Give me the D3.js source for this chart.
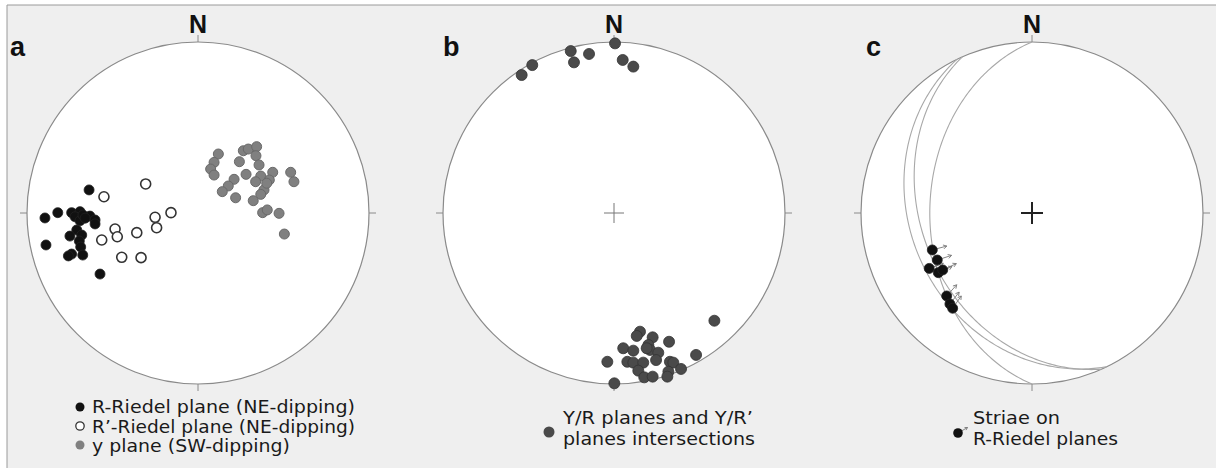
<!DOCTYPE html>
<html><head><meta charset="utf-8">
<script src="https://cdn.jsdelivr.net/npm/d3@7"></script>
<style>html,body{margin:0;padding:0;background:#fff;}svg{display:block;}</style>
</head><body>
<script>
// ---------- DATA (normalized stereonet coordinates: x east, y north, unit = primitive radius) ----------
const panelLabels = ["a", "b", "c"];
const northLabel = "N";

const rRiedelX = [-0.637,-0.820,-0.895,-0.739,-0.690,-0.719,-0.690,-0.632,-0.602,-0.602,-0.709,-0.749,-0.680,-0.694,-0.686,-0.739,-0.758,-0.674,-0.889,-0.573,-0.673,-0.660];
const rRiedelY = [0.135,0.002,-0.029,0.002,0.008,-0.022,-0.045,-0.018,-0.041,-0.064,-0.099,-0.135,-0.129,-0.164,-0.199,-0.240,-0.251,-0.246,-0.187,-0.357,-0.012,-0.030];

const rPrimeX = [-0.306,-0.550,-0.485,-0.472,-0.563,-0.358,-0.251,-0.158,-0.242,-0.446,-0.333];
const rPrimeY = [0.170,0.095,-0.094,-0.139,-0.158,-0.115,-0.025,0.002,-0.086,-0.259,-0.261];

const yPlaneX = [0.119,0.094,0.074,0.094,0.265,0.294,0.343,0.339,0.242,0.357,0.281,0.211,0.177,0.142,0.220,0.367,0.437,0.417,0.337,0.386,0.367,0.323,0.542,0.561,0.378,0.405,0.474,0.505,0.402];
const yPlaneY = [0.345,0.296,0.257,0.222,0.364,0.374,0.388,0.335,0.300,0.281,0.226,0.197,0.158,0.125,0.089,0.216,0.238,0.193,0.183,0.135,0.109,0.072,0.238,0.183,0.002,0.018,-0.002,-0.123,0.174];

const interX = [0.006,-0.253,-0.234,-0.146,-0.478,-0.540,0.051,0.113,
  0.587,0.152,0.133,0.226,0.322,0.201,0.054,0.113,0.211,0.259,0.480,-0.039,0.078,0.113,0.171,0.246,0.327,0.347,0.392,0.142,0.318,0.177,0.226,0.312,0.002,0.191];
const interY = [0.992,0.947,0.881,0.930,0.865,0.807,0.895,0.856,
  -0.630,-0.694,-0.719,-0.727,-0.753,-0.772,-0.791,-0.805,-0.801,-0.817,-0.830,-0.870,-0.870,-0.875,-0.875,-0.860,-0.870,-0.875,-0.912,-0.922,-0.928,-0.961,-0.957,-0.957,-0.996,-0.791];

const striaeX = [-0.583,-0.554,-0.601,-0.548,-0.522,-0.499,-0.480,-0.464];
const striaeY = [-0.216,-0.275,-0.324,-0.349,-0.333,-0.485,-0.532,-0.557];
const striaeTrend = [75,72,70,66,65,42,38,35];

const planeDipDir = [270,244,246];
const planeDip = [40,30,36];

const legendA = ["R-Riedel plane (NE-dipping)", "R\u2019-Riedel plane (NE-dipping)", "y plane (SW-dipping)"];
const legendB = ["Y/R planes and Y/R\u2019", "planes intersections"];
const legendC = ["Striae on", "R-Riedel planes"];

// ---------- LAYOUT ----------
const W = 1216, H = 468;
const centers = [198, 614, 1032];
const labelX = [10, 443, 866];
const CY = 213, R = 171;

const svg = d3.select("body").append("svg").attr("width", W).attr("height", H);
svg.append("rect").attr("x",0).attr("y",0).attr("width",W).attr("height",H).attr("fill","#fff");
svg.append("rect").attr("x",7).attr("y",5).attr("width",W-7).attr("height",H-5).attr("fill","#efefef");
svg.append("path").attr("d",`M7,${H}V5H${W}`).attr("fill","none").attr("stroke","#9a9a9a").attr("stroke-width",1);

const scales = centers.map(cx => ({
  x: d3.scaleLinear().domain([-1,1]).range([cx-R, cx+R]),
  y: d3.scaleLinear().domain([-1,1]).range([CY+R, CY-R])
}));

centers.forEach((cx, i) => {
  const g = svg.append("g");
  const s = scales[i];
  g.append("circle").attr("cx", s.x(0)).attr("cy", s.y(0)).attr("r", s.x(1)-s.x(0))
    .attr("fill","#fff").attr("stroke","#8a8a8a").attr("stroke-width",1.2);
  const tk = 7;
  const ticks = [[0,1,0,-tk],[0,-1,0,tk],[-1,0,-tk,0],[1,0,tk,0]];
  ticks.forEach(t => {
    g.append("line").attr("x1", s.x(t[0])).attr("y1", s.y(t[1]))
      .attr("x2", s.x(t[0])+t[2]).attr("y2", s.y(t[1])+t[3])
      .attr("stroke","#8a8a8a").attr("stroke-width",1);
  });
  g.append("text").attr("x", s.x(0)).attr("y", 33).attr("text-anchor","middle")
    .attr("font-family","Liberation Sans, Arial, sans-serif").attr("font-weight","bold")
    .attr("font-size",25).attr("fill","#111").text(northLabel);
  g.append("text").attr("x", labelX[i]).attr("y", 56)
    .attr("font-family","Liberation Sans, Arial, sans-serif").attr("font-weight","bold")
    .attr("font-size",27).attr("fill","#111").text(panelLabels[i]);
});

// center crosses (b: thin grey, c: bold black)
function cross(s, size, col, w) {
  svg.append("path").attr("d", `M${s.x(0)-size},${s.y(0)}H${s.x(0)+size}M${s.x(0)},${s.y(0)-size}V${s.y(0)+size}`)
    .attr("stroke", col).attr("stroke-width", w).attr("fill","none");
}
cross(scales[1], 10, "#777", 1);
cross(scales[2], 11, "#222", 2);

// ---------- Panel a ----------
const sa = scales[0];
svg.append("g").selectAll("circle").data(d3.range(yPlaneX.length)).join("circle")
  .attr("cx", d => sa.x(yPlaneX[d])).attr("cy", d => sa.y(yPlaneY[d])).attr("r", 5)
  .attr("fill","#808080").attr("stroke","#6a6a6a").attr("stroke-width",1);
svg.append("g").selectAll("circle").data(d3.range(rPrimeX.length)).join("circle")
  .attr("cx", d => sa.x(rPrimeX[d])).attr("cy", d => sa.y(rPrimeY[d])).attr("r", 5)
  .attr("fill","#fff").attr("stroke","#333").attr("stroke-width",1.6);
svg.append("g").selectAll("circle").data(d3.range(rRiedelX.length)).join("circle")
  .attr("cx", d => sa.x(rRiedelX[d])).attr("cy", d => sa.y(rRiedelY[d])).attr("r", 5)
  .attr("fill","#111").attr("stroke","#222").attr("stroke-width",0.8);

// ---------- Panel b ----------
const sb = scales[1];
svg.append("g").selectAll("circle").data(d3.range(interX.length)).join("circle")
  .attr("cx", d => sb.x(interX[d])).attr("cy", d => sb.y(interY[d])).attr("r", 5.5)
  .attr("fill","#4a4a4a").attr("stroke","#333").attr("stroke-width",0.8);

// ---------- Panel c ----------
const sc = scales[2];
const rad = Math.PI/180;
function greatCircle(dd, dip) {
  const pts = [];
  const s = (dd-90)*rad, dr = dd*rad, dp = dip*rad;
  for (let t = 0; t <= 180; t += 1) {
    const tr = t*rad;
    const n = Math.cos(s)*Math.cos(tr) + Math.cos(dp)*Math.cos(dr)*Math.sin(tr);
    const e = Math.sin(s)*Math.cos(tr) + Math.cos(dp)*Math.sin(dr)*Math.sin(tr);
    const dn = Math.sin(dp)*Math.sin(tr);
    const pl = Math.asin(Math.max(-1, Math.min(1, dn)));
    const trend = Math.atan2(e, n);
    const r = Math.SQRT2*Math.sin((Math.PI/2 - pl)/2);
    pts.push([r*Math.sin(trend), r*Math.cos(trend)]);
  }
  return pts;
}
const line = d3.line().x(d => sc.x(d[0])).y(d => sc.y(d[1]));
planeDipDir.forEach((dd, i) => {
  svg.append("path").attr("d", line(greatCircle(dd, planeDip[i])))
    .attr("fill","none").attr("stroke","#a8a8a8").attr("stroke-width",1.1);
});

function arrowPath(x0, y0, az, off, len, head) {
  const dx = Math.sin(az*rad), dy = -Math.cos(az*rad);
  const x1 = x0 + dx*off, y1 = y0 + dy*off;
  const x2 = x0 + dx*(off+len), y2 = y0 + dy*(off+len);
  const a1 = (az+180-30)*rad, a2 = (az+180+30)*rad;
  return `M${x1},${y1}L${x2},${y2}M${x2+Math.sin(a1)*head},${y2-Math.cos(a1)*head}L${x2},${y2}L${x2+Math.sin(a2)*head},${y2-Math.cos(a2)*head}`;
}
svg.append("g").selectAll("path").data(d3.range(striaeX.length)).join("path")
  .attr("d", d => arrowPath(sc.x(striaeX[d]), sc.y(striaeY[d]), striaeTrend[d], 5, 10, 4))
  .attr("fill","none").attr("stroke","#777").attr("stroke-width",0.9);
svg.append("g").selectAll("circle").data(d3.range(striaeX.length)).join("circle")
  .attr("cx", d => sc.x(striaeX[d])).attr("cy", d => sc.y(striaeY[d])).attr("r", 5)
  .attr("fill","#111").attr("stroke","#222").attr("stroke-width",0.8);

// ---------- Legends ----------
const lf = "DejaVu Sans, Verdana, sans-serif";
function ltext(x, y, str, w) {
  svg.append("text").attr("x", x).attr("y", y).attr("font-family", lf).attr("font-size", 18)
    .attr("fill","#1a1a1a").attr("textLength", w).attr("lengthAdjust","spacingAndGlyphs").text(str);
}
// a
svg.append("circle").attr("cx",80).attr("cy",407).attr("r",4.5).attr("fill","#111");
svg.append("circle").attr("cx",80).attr("cy",426).attr("r",4.2).attr("fill","#fff").attr("stroke","#333").attr("stroke-width",1.3);
svg.append("circle").attr("cx",80).attr("cy",445).attr("r",4.5).attr("fill","#808080");
ltext(92, 413, legendA[0], 263);
ltext(92, 432.5, legendA[1], 263);
ltext(92, 451.5, legendA[2], 198);
// b
svg.append("circle").attr("cx",549).attr("cy",432).attr("r",5.5).attr("fill","#4a4a4a");
ltext(563, 424, legendB[0], 190);
ltext(563, 445, legendB[1], 192);
// c
svg.append("path").attr("d", arrowPath(958, 433, 60, 4, 7, 3)).attr("fill","none").attr("stroke","#777").attr("stroke-width",0.9);
svg.append("circle").attr("cx",958).attr("cy",433).attr("r",4.8).attr("fill","#111");
ltext(973, 424, legendC[0], 87);
ltext(973, 445, legendC[1], 145);
</script>
</body></html>
